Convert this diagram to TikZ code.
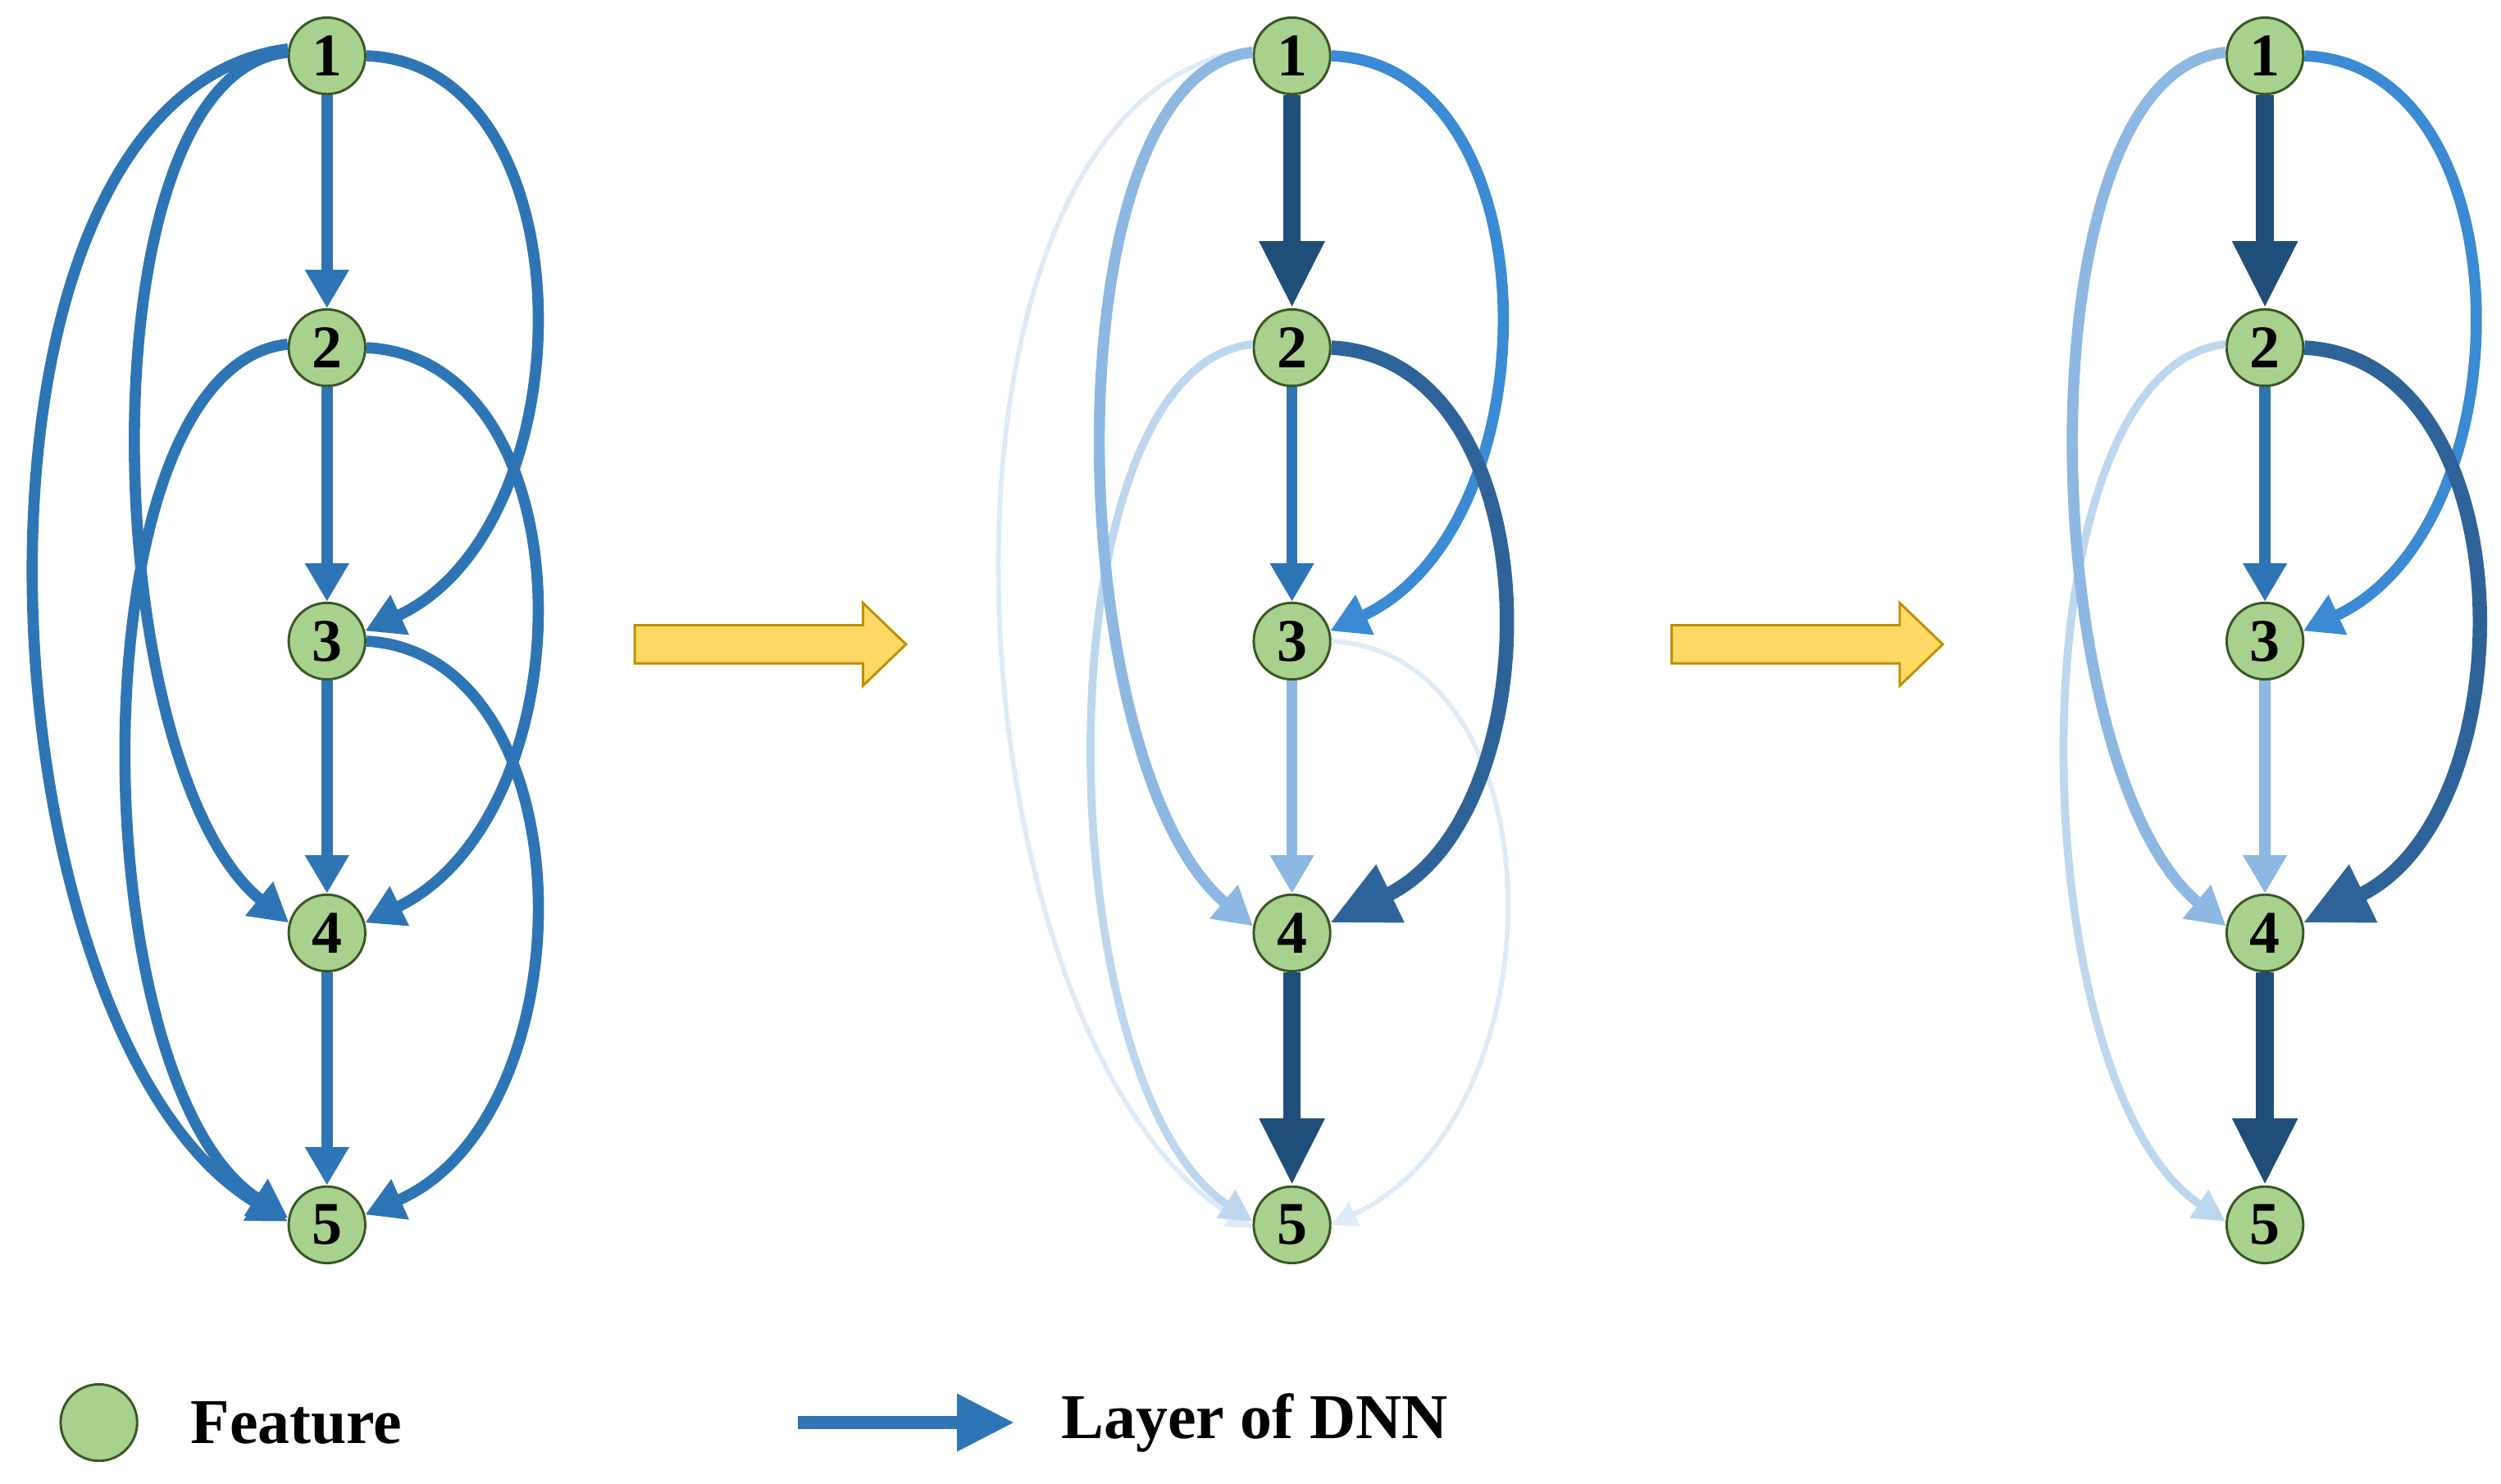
\documentclass[tikz,border=0pt]{standalone}
\usepackage{fontspec}
\setmainfont{Liberation Serif}
\usetikzlibrary{arrows.meta}
\definecolor{eb}{HTML}{2E75B6}
\definecolor{ed}{HTML}{1F4E79}
\definecolor{edm}{HTML}{2E6399}
\definecolor{ebr}{HTML}{3A8AD4}
\definecolor{el}{HTML}{8DB8E2}
\definecolor{ell}{HTML}{BDD7EE}
\definecolor{evl}{HTML}{DDEBF7}
\definecolor{nf}{HTML}{A9D18E}
\definecolor{nd}{HTML}{385723}
\definecolor{yf}{HTML}{FFD966}
\definecolor{yd}{HTML}{BF9000}
\begin{document}
\begin{tikzpicture}[x=1pt,y=-1pt,
 feat/.style={circle,fill=nf,draw=nd,line width=1.5pt,minimum size=48pt,inner sep=0pt,font=\fontsize{38}{38}\selectfont\bfseries},
 e/.style={line width=7pt,-{Triangle[length=24pt,width=26pt]}},
 et/.style={line width=3pt,-{Triangle[length=16pt,width=16pt]}},
 ek/.style={line width=11pt,-{Triangle[length=42pt,width=38pt]}},
 yarrow/.style={fill=yf,draw=yd,line width=1.5pt}]
\useasboundingbox (0,0) rectangle (1568,930);
% column 1
\foreach \i/\y in {1/35,2/218,3/402,4/585,5/768}{\node[feat] (a\i) at (205,\y) {\i};}
\draw[e,eb] (a1) -- (a2); \draw[e,eb] (a2) -- (a3); \draw[e,eb] (a3) -- (a4); \draw[e,eb] (a4) -- (a5);
\draw[e,eb] (a1.east) .. controls (370,40) and (370,330) .. (a3.15);
\draw[e,eb] (a2.east) .. controls (370,225) and (370,510) .. (a4.15);
\draw[e,eb] (a3.east) .. controls (370,410) and (370,700) .. (a5.15);
\draw[e,eb] (a1.175) .. controls (50,45) and (60,480) .. (a4.165);
\draw[e,eb] (a2.175) .. controls (45,230) and (50,680) .. (a5.170);
\draw[e,eb] (a1.170) .. controls (-45,60) and (-15,650) .. (a5.175);
% column 2
\foreach \i/\y in {1/35,2/218,3/402,4/585,5/768}{\node[feat] (b\i) at (810,\y) {\i};}
\draw[evl,et] (b1.170) .. controls (560,60) and (590,650) .. (b5.185);
\draw[ell,line width=5pt,-{Triangle[length=20pt,width=20pt]}] (b2.175) .. controls (650,230) and (655,680) .. (b5.175);
\draw[evl,et] (b3.east) .. controls (980,410) and (980,700) .. (b5.0);
\draw[el,e] (b1.175) .. controls (655,45) and (665,480) .. (b4.170);
\draw[ek,ed] (b1) -- (b2); \draw[e,eb] (b2) -- (b3); \draw[e,el] (b3) -- (b4); \draw[ek,ed] (b4) -- (b5);
\draw[e,ebr] (b1.east) .. controls (975,40) and (975,330) .. (b3.15);
\draw[ek,edm,line width=9pt] (b2.east) .. controls (975,225) and (975,510) .. (b4.15);
% column 3
\foreach \i/\y in {1/35,2/218,3/402,4/585,5/768}{\node[feat] (c\i) at (1420,\y) {\i};}
\draw[ell,line width=5pt,-{Triangle[length=20pt,width=20pt]}] (c2.175) .. controls (1260,230) and (1265,680) .. (c5.175);
\draw[el,e] (c1.175) .. controls (1265,45) and (1275,480) .. (c4.170);
\draw[ek,ed] (c1) -- (c2); \draw[e,eb] (c2) -- (c3); \draw[e,el] (c3) -- (c4); \draw[ek,ed] (c4) -- (c5);
\draw[e,ebr] (c1.east) .. controls (1585,40) and (1585,330) .. (c3.15);
\draw[ek,edm,line width=9pt] (c2.east) .. controls (1585,225) and (1585,510) .. (c4.15);
% yellow arrows
\foreach \x in {398,1048}{
\draw[yarrow] (\x,392) -- ++(143,0) -- ++(0,-14) -- ++(27,26) -- ++(-27,26) -- ++(0,-14) -- (\x,416) -- cycle;}
% legend
\node[feat] (lf) at (62,892) {};
\node[anchor=west,font=\fontsize{40}{40}\selectfont\bfseries] (lt) at (116,892) {Feature};
\coordinate (la) at (500,892); \coordinate (lb) at (636,892);
\draw[eb,line width=8pt,-{Triangle[length=36pt,width=34pt]}] (la) -- (lb);
\node[anchor=west,font=\fontsize{40}{40}\selectfont\bfseries] (lt2) at (662,892) {Layer of DNN};
\end{tikzpicture}
\end{document}
